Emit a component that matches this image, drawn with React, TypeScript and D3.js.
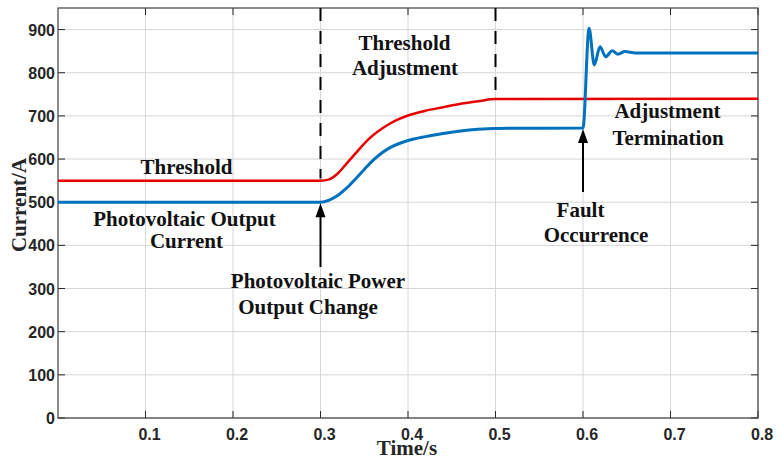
import React from "react";
import * as d3 from "d3";

const redTime = [0, 0.3, 0.31, 0.32, 0.33, 0.34, 0.35, 0.36, 0.37, 0.38, 0.39, 0.4, 0.42, 0.44, 0.46, 0.48, 0.5, 0.8];
const redValue = [550, 550, 553, 567, 590, 613, 636, 655, 670, 683, 693, 701, 712, 720, 728, 734, 739, 740];

const blueTime = [0, 0.3, 0.31, 0.32, 0.33, 0.34, 0.35, 0.36, 0.37, 0.38, 0.39, 0.4, 0.42, 0.44, 0.46, 0.48, 0.5, 0.6, 0.6069, 0.6129, 0.6194, 0.6259, 0.6335, 0.6397, 0.648, 0.66, 0.8];
const blueValue = [500, 500, 505, 516, 533, 554, 576, 597, 614, 627, 636, 643, 652, 659, 665, 669, 671, 672, 903, 818, 860, 837, 851, 843, 849, 846, 846];

const xTicks = [0.1, 0.2, 0.3, 0.4, 0.5, 0.6, 0.7, 0.8];
const yTicks = [0, 100, 200, 300, 400, 500, 600, 700, 800, 900];

const W = 780, H = 459;
const L = 58, R = 758, T = 8, B = 418;

export default function App() {
  const x = d3.scaleLinear().domain([0, 0.8]).range([L, R]);
  const y = d3.scaleLinear().domain([0, 950]).range([B, T]);
  const line = d3
    .line<[number, number]>()
    .x((d) => x(d[0]))
    .y((d) => y(d[1]))
    .curve(d3.curveMonotoneX);
  const red = line(redTime.map((t, i) => [t, redValue[i]]) as [number, number][]) || "";
  const blue = line(blueTime.map((t, i) => [t, blueValue[i]]) as [number, number][]) || "";

  const tickColor = "#262626";
  const serif = "'Liberation Serif', 'Times New Roman', serif";
  const sans = "'Liberation Sans', Arial, sans-serif";
  const annot = { fontFamily: serif, fontWeight: 700, fontSize: 21, fill: "#111" } as const;

  const arrow = (t: number, yTip: number, yTail: number) => {
    const xp = x(t);
    return (
      <g>
        <line x1={xp} x2={xp} y1={yTail} y2={yTip + 10} stroke="#000" strokeWidth={2} />
        <path d={`M${xp},${yTip} L${xp - 5},${yTip + 14} L${xp + 5},${yTip + 14} Z`} fill="#000" />
      </g>
    );
  };

  return (
    <svg
      width={W}
      height={H}
      style={{ position: "fixed", left: 0, top: 0, background: "#fff" }}
    >
      <rect x={0} y={0} width={W} height={H} fill="#fff" />
      {xTicks.map((t) => (
        <line key={"gx" + t} x1={x(t)} x2={x(t)} y1={T} y2={B} stroke="#d6d6d6" strokeWidth={1} />
      ))}
      {yTicks.map((v) => (
        <line key={"gy" + v} x1={L} x2={R} y1={y(v)} y2={y(v)} stroke="#d6d6d6" strokeWidth={1} />
      ))}
      {xTicks.map((t) => (
        <g key={"tx" + t}>
          <line x1={x(t)} x2={x(t)} y1={B} y2={B - 7} stroke={tickColor} strokeWidth={1} />
          <line x1={x(t)} x2={x(t)} y1={T} y2={T + 7} stroke={tickColor} strokeWidth={1} />
          <text x={x(t) + 4} y={440} textAnchor="middle" fontFamily={sans} fontWeight={700} fontSize={16} fill={tickColor}>
            {t.toFixed(1)}
          </text>
        </g>
      ))}
      {yTicks.map((v) => (
        <g key={"ty" + v}>
          <line x1={L} x2={L + 7} y1={y(v)} y2={y(v)} stroke={tickColor} strokeWidth={1} />
          <line x1={R} x2={R - 7} y1={y(v)} y2={y(v)} stroke={tickColor} strokeWidth={1} />
          <text x={55} y={y(v) + 6} textAnchor="end" fontFamily={sans} fontWeight={700} fontSize={16} fill={tickColor}>
            {v}
          </text>
        </g>
      ))}
      <rect x={L} y={T} width={R - L} height={B - T} fill="none" stroke="#404040" strokeWidth={1.2} />

      <line x1={x(0.3)} x2={x(0.3)} y1={T} y2={y(555)} stroke="#000" strokeWidth={2} strokeDasharray="13,10" />
      <line x1={x(0.5)} x2={x(0.5)} y1={T} y2={y(742)} stroke="#000" strokeWidth={2} strokeDasharray="13,10" />

      <path d={red} fill="none" stroke="#e60000" strokeWidth={2.5} />
      <path d={blue} fill="none" stroke="#0072bd" strokeWidth={3} />

      {arrow(0.3, y(500) + 1, 267)}
      {arrow(0.6, y(672) + 1, 192)}

      <text {...annot} x={404.5} y={50} textAnchor="middle">Threshold</text>
      <text {...annot} x={405} y={75} textAnchor="middle">Adjustment</text>
      <text {...annot} x={186.5} y={174} textAnchor="middle">Threshold</text>
      <text {...annot} x={184.5} y={226} textAnchor="middle">Photovoltaic Output</text>
      <text {...annot} x={186.5} y={248} textAnchor="middle">Current</text>
      <text {...annot} x={318} y={288} textAnchor="middle">Photovoltaic Power</text>
      <text {...annot} x={308} y={314} textAnchor="middle">Output Change</text>
      <text {...annot} x={580.5} y={217} textAnchor="middle">Fault</text>
      <text {...annot} x={596} y={242} textAnchor="middle">Occurrence</text>
      <text {...annot} x={667.5} y={118} textAnchor="middle">Adjustment</text>
      <text {...annot} x={668} y={145} textAnchor="middle">Termination</text>

      <text {...annot} fill="#262626" x={407} y={455} textAnchor="middle">Time/s</text>
      <text
        {...annot}
        fill="#262626"
        transform={`translate(26,205) rotate(-90)`}
        textAnchor="middle"
      >
        Current/A
      </text>
    </svg>
  );
}
